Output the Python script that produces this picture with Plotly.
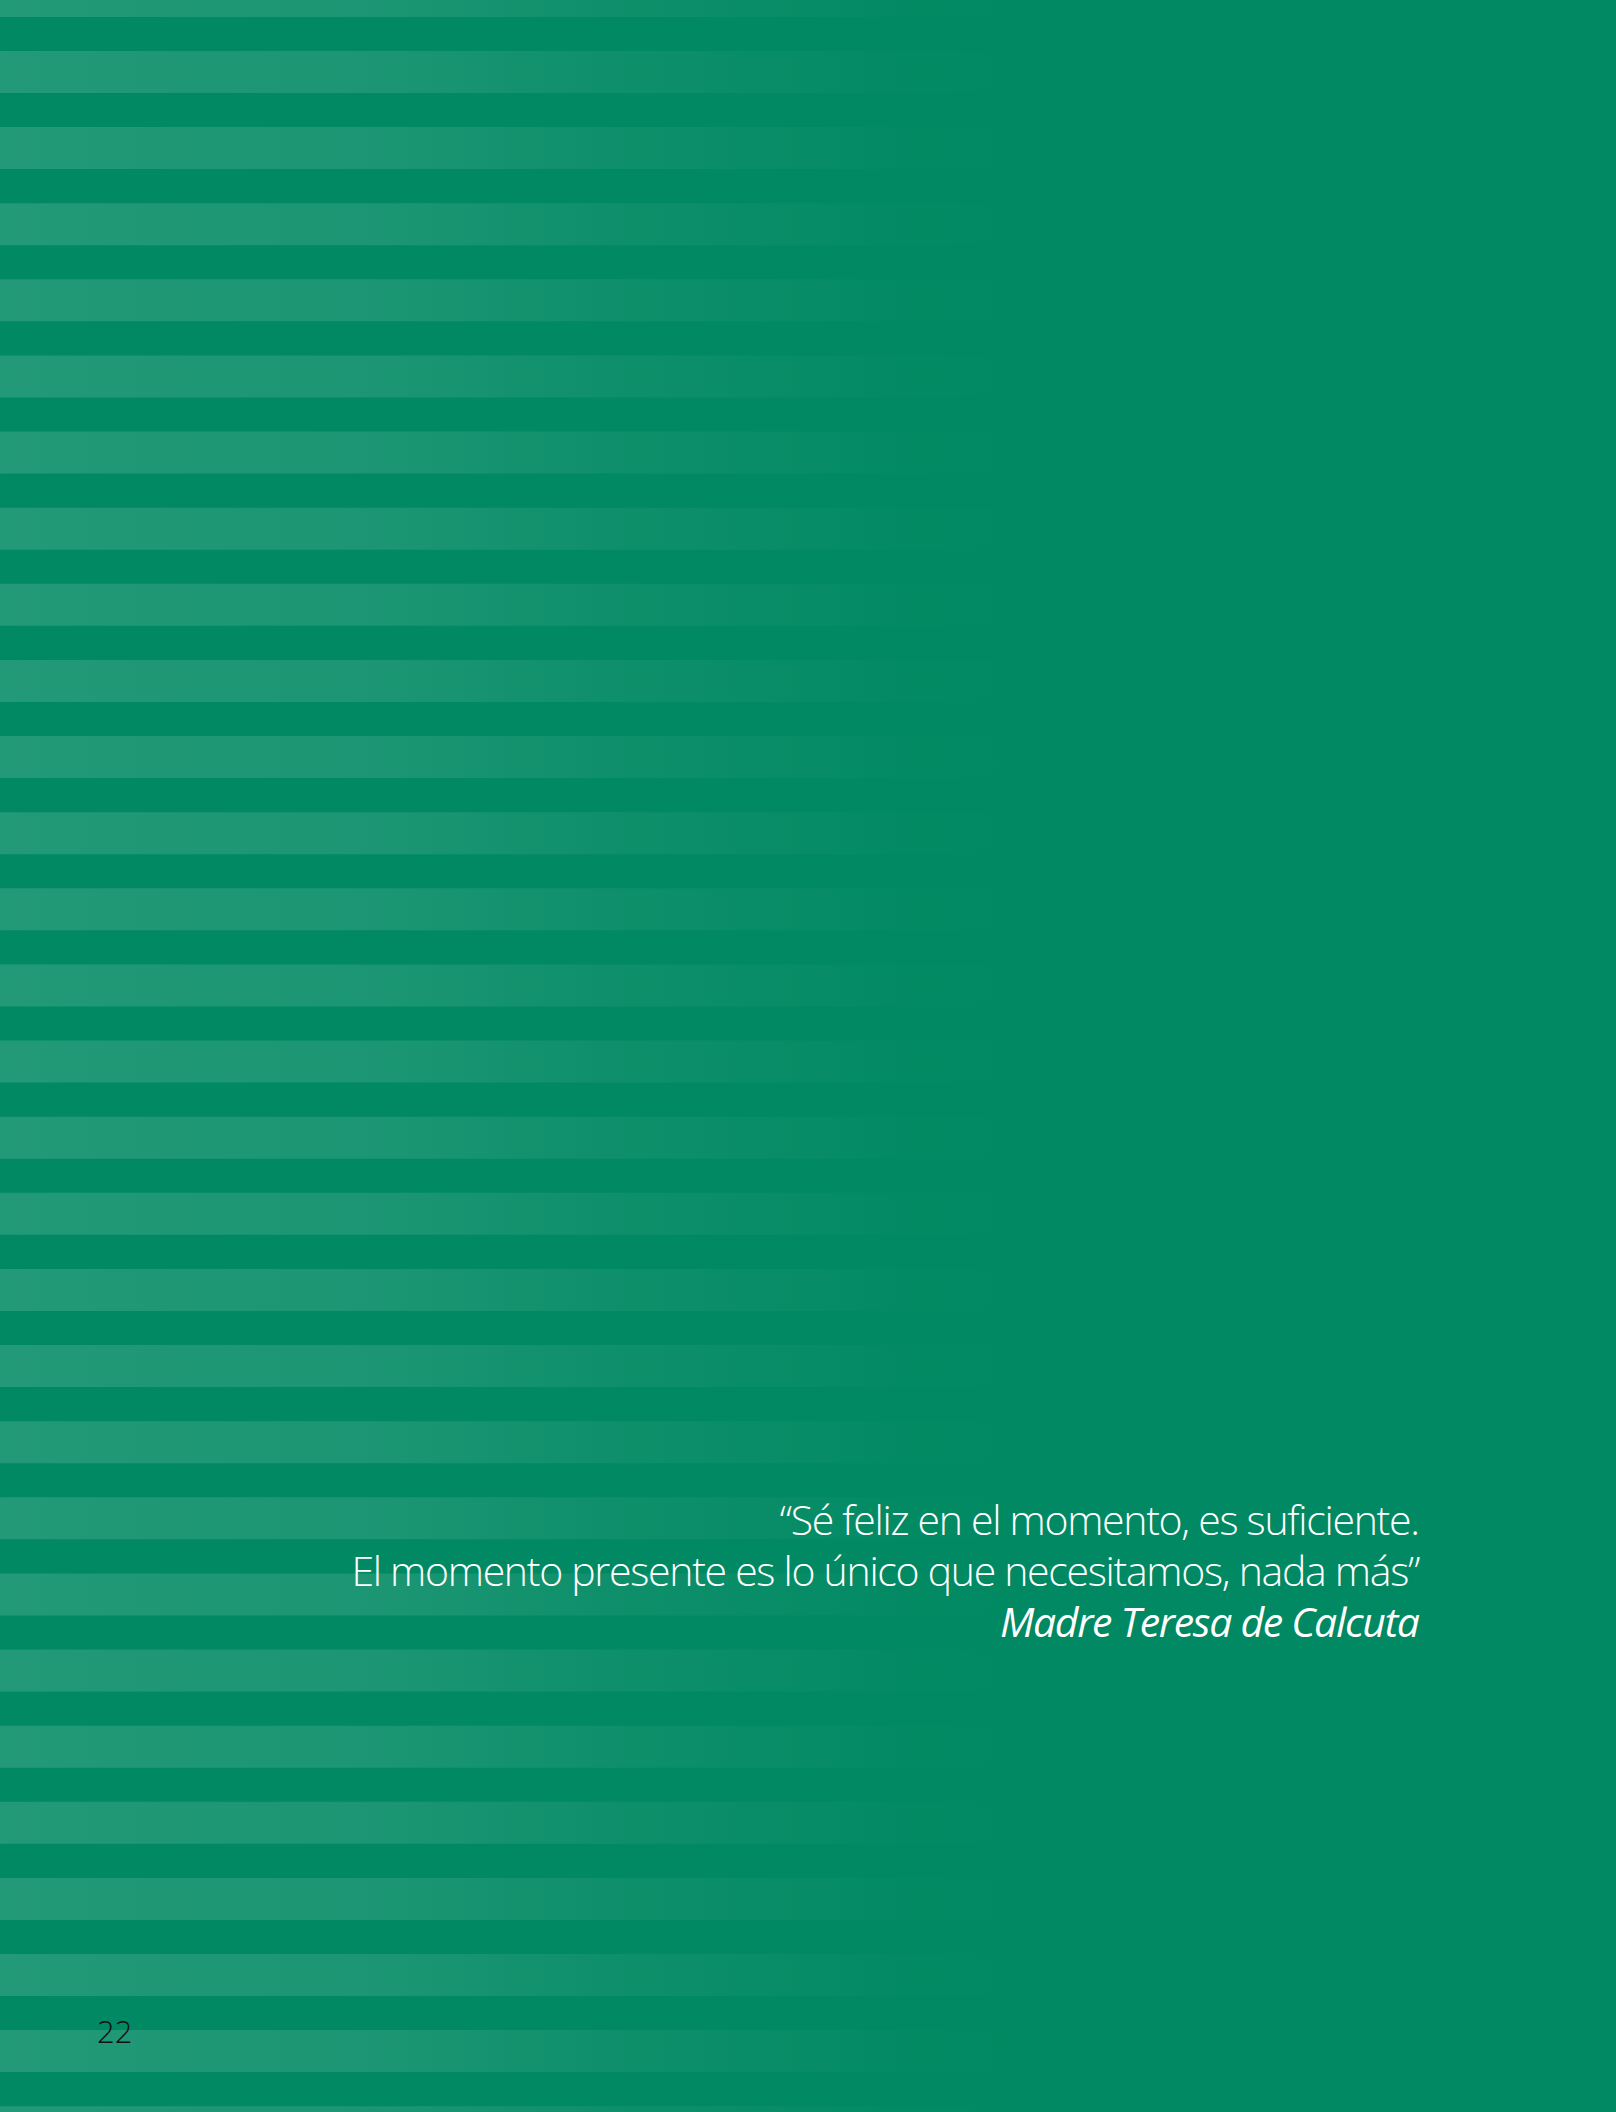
import plotly.graph_objects as go

# ---- content ----
quote_lines = [
    "“Sé feliz en el momento, es suficiente.",
    "El momento presente es lo único que necesitamos, nada más”",
]
author = "Madre Teresa de Calcuta"
page_number = "22"
n_stripes = 29

# ---- page geometry / style ----
W, H = 1616, 2112
DARK = "#008962"
period = 76.12
first_top = 51 - period
stripe_h = 42
fade_w = 1060

xs, ys = [], []
for k in range(n_stripes):
    t = first_top + k * period
    b = t + stripe_h
    xs += [0, fade_w, fade_w, 0, 0, None]
    ys += [t, t, b, b, t, None]

fig = go.Figure()
fig.add_trace(go.Scatter(
    x=xs, y=ys, mode="lines", fill="toself",
    line=dict(width=0, color="rgba(0,0,0,0)"),
    fillgradient=dict(
        type="horizontal",
        colorscale=[
            [0.0, "rgba(255,255,255,0.135)"],
            [0.38, "rgba(255,255,255,0.105)"],
            [0.57, "rgba(255,255,255,0.058)"],
            [0.85, "rgba(255,255,255,0.012)"],
            [1.0, "rgba(255,255,255,0.0)"],
        ],
    ),
    hoverinfo="skip", showlegend=False,
))

ann = []
qsize = 41
base1, gap = 1535, 51
for i, line in enumerate(quote_lines):
    ann.append(dict(
        x=1421, y=base1 + i * gap - 0.388 * qsize, xref="x", yref="y",
        text=line, showarrow=False, xanchor="right", yanchor="middle", align="right",
        font=dict(family="Open Sans", size=qsize, color="white", weight=300),
    ))
ann.append(dict(
    x=1421, y=base1 + 2 * gap - 0.388 * qsize, xref="x", yref="y",
    text=author, showarrow=False, xanchor="right", yanchor="middle", align="right",
    font=dict(family="Open Sans", size=qsize, color="white", weight=400, style="italic"),
))
psize = 31
ann.append(dict(
    x=95, y=2043 - 0.388 * psize, xref="x", yref="y",
    text=page_number, showarrow=False, xanchor="left", yanchor="middle",
    font=dict(family="Open Sans", size=psize, color="#111111", weight=300),
))

fig.update_layout(
    width=W, height=H,
    margin=dict(l=0, r=0, t=0, b=0),
    paper_bgcolor=DARK, plot_bgcolor=DARK,
    xaxis=dict(range=[0, W], visible=False, fixedrange=True),
    yaxis=dict(range=[H, 0], visible=False, fixedrange=True),
    annotations=ann,
    showlegend=False,
)

post = """
document.body.style.margin = '0';
document.body.style.background = '%s';
document.querySelectorAll('.annotation-text').forEach(function(el){
  if (el.textContent.length > 10) { el.style.letterSpacing = '-1.3px'; }
});
""" % DARK

fig.write_html("out.html", post_script=post, config={"displayModeBar": False})
